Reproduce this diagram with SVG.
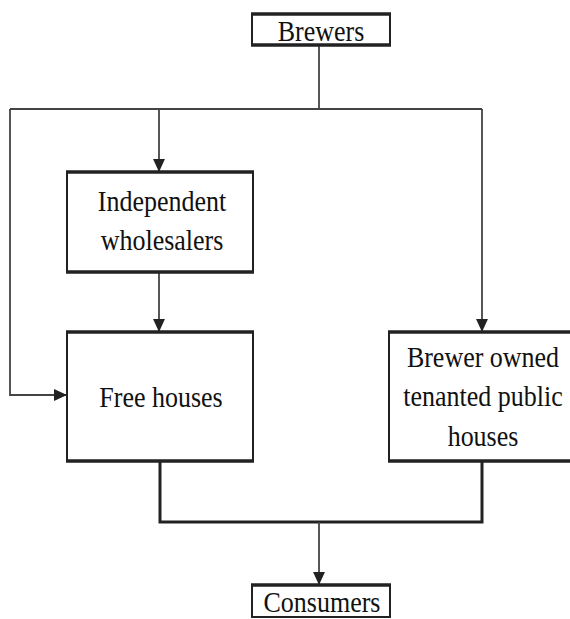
<svg xmlns="http://www.w3.org/2000/svg" width="570" height="619" viewBox="0 0 570 619">
<style>
.box{fill:#fff;stroke:#222;stroke-width:2}
.edge{stroke:#222;stroke-width:3.5;fill:none}
.con{stroke:#444;stroke-width:1.8;fill:none}
.thick{stroke:#222;stroke-width:3;fill:none}
text{font-family:'Liberation Serif','Times New Roman',Times,serif;font-size:26px;fill:#111;text-anchor:middle}
</style>
<defs>
<marker id="ah" viewBox="0 0 12 12" refX="12" refY="6" markerWidth="13" markerHeight="13" markerUnits="userSpaceOnUse" orient="auto">
<path d="M0,0.5 L12,6 L0,11.5 Z" fill="#222"/>
</marker>
</defs>
<rect width="570" height="619" fill="#fff"/>
<g id="connectors">
<path class="con" d="M319,45 V109"/>
<path class="con" d="M10,109 H482"/>
<path class="con" d="M159,109 V172" marker-end="url(#ah)"/>
<path class="con" d="M482,109 V332" marker-end="url(#ah)"/>
<path class="con" d="M10,109 V395 H67" marker-end="url(#ah)"/>
<path class="con" d="M159,272 V332" marker-end="url(#ah)"/>
<path class="thick" d="M160,461 V522 H482 V461"/>
<path class="con" d="M319,522 V585" marker-end="url(#ah)"/>
</g>
<g id="brewers">
<rect class="box" x="252" y="14" width="138" height="31"/>
<path class="edge" d="M251,14 H391 M251,45 H391"/>
<text font-family="Liberation Serif, serif" transform="translate(321,41) scale(1,1.15)">Brewers</text>
</g>
<g id="wholesalers">
<rect class="box" x="67" y="172" width="186" height="100"/>
<path class="edge" d="M66,172 H254 M66,272 H254"/>
<text font-family="Liberation Serif, serif" transform="translate(162,211) scale(1,1.15)">Independent</text>
<text font-family="Liberation Serif, serif" transform="translate(162,250) scale(1,1.15)">wholesalers</text>
</g>
<g id="free-houses">
<rect class="box" x="67" y="332" width="186" height="129"/>
<path class="edge" d="M66,332 H254 M66,461 H254"/>
<text font-family="Liberation Serif, serif" transform="translate(161,407) scale(1,1.15)">Free houses</text>
</g>
<g id="tenanted">
<rect class="box" x="389" y="332" width="190" height="129"/>
<path class="edge" d="M388,332 H580 M388,461 H580"/>
<text font-family="Liberation Serif, serif" transform="translate(483,367) scale(1,1.15)">Brewer owned</text>
<text font-family="Liberation Serif, serif" transform="translate(483,406) scale(1,1.15)">tenanted public</text>
<text font-family="Liberation Serif, serif" transform="translate(483,446) scale(1,1.15)">houses</text>
</g>
<g id="consumers">
<rect class="box" x="252" y="585" width="138" height="32"/>
<path class="edge" d="M251,585 H391"/>
<text font-family="Liberation Serif, serif" transform="translate(322,612) scale(1,1.15)">Consumers</text>
</g>
</svg>
